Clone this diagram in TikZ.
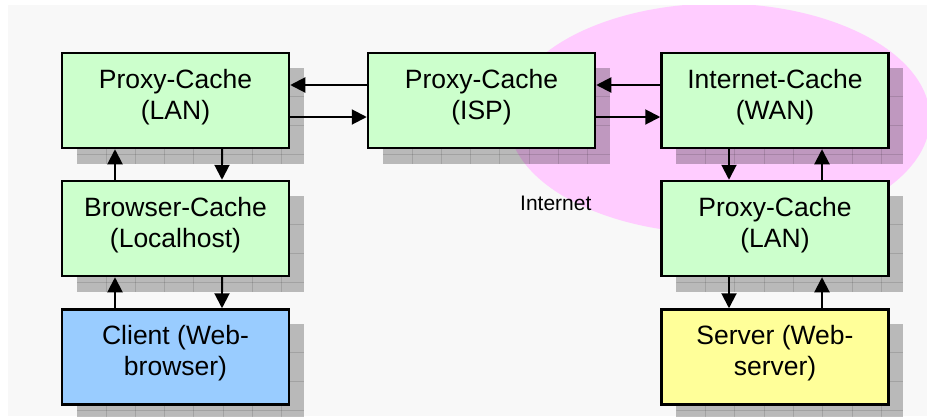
\documentclass[tikz,border=0pt]{standalone}
\usepackage{fontspec}
\setmainfont{Liberation Sans}
\usetikzlibrary{arrows.meta}

\definecolor{boxgreen}{HTML}{CCFFCC}
\definecolor{clientblue}{HTML}{99CCFF}
\definecolor{serveryellow}{HTML}{FFFF99}
\definecolor{netpink}{HTML}{FFCCFF}
\definecolor{panelgray}{HTML}{F8F8F8}

\pgfdeclarelayer{panel}
\pgfdeclarelayer{shadows}
\pgfsetlayers{panel,shadows,main}

\tikzset{
  cachebox/.style={draw=black, line width=2.5pt, fill=boxgreen,
    minimum width=227pt, minimum height=95pt, inner sep=0pt,
    align=center, text depth=12.5pt, font=\fontsize{26.5}{31}\selectfont},
  clientbox/.style={cachebox, fill=clientblue},
  serverbox/.style={cachebox, fill=serveryellow},
  flow/.style={-{Triangle[length=15pt,width=15pt]}, line width=2pt},
  netlabel/.style={font=\fontsize{21}{25}\selectfont, anchor=base west, inner sep=0pt},
}

% grey gridded drop shadow behind a box, offset 16 right and 16 down
\newcommand\gridshadow[1]{%
  \begin{scope}[shift={(#1.north west)}, shift={(16,16)}]
    \fill[black, opacity=0.25] (0,0) rectangle (227,96);
    \begin{scope}
      \clip (0,0) rectangle (227,96);
      \foreach \gx in {29.3,58.6,...,227} {
        \draw[black, opacity=0.12, line width=1pt] (\gx,0) -- (\gx,96);
      }
      \foreach \gy in {28.5,57.5,86.5} {
        \draw[black, opacity=0.12, line width=1pt] (0,\gy) -- (227,\gy);
      }
    \end{scope}
  \end{scope}}

\begin{document}
\begin{tikzpicture}[x=1pt, y=-1pt]
  \useasboundingbox (0,0) rectangle (927,416);

  % cache boxes
  \node[cachebox] (lanA) at (175.5,100.5) {Proxy-Cache\\(LAN)};
  \node[cachebox] (isp) at (481.5,100.5) {Proxy-Cache\\(ISP)};
  \node[cachebox] (wan) at (775,100.5) {Internet-Cache\\(WAN)};
  \node[cachebox] (browser) at (175.5,228.5) {Browser-Cache\\(Localhost)};
  \node[cachebox] (lanB) at (775,228.5) {Proxy-Cache\\(LAN)};
  \node[clientbox] (client) at (175.5,357) {Client (Web-\\browser)};
  \node[serverbox] (server) at (775,357) {Server (Web-\\server)};

  % horizontal request / response flows
  \draw[flow] ([yshift=15.5pt]isp.west) -- ([yshift=15.5pt]lanA.east);
  \draw[flow] ([yshift=-16.5pt]lanA.east) -- ([yshift=-16.5pt]isp.west);
  \draw[flow] ([yshift=15.5pt]wan.west) -- ([yshift=15.5pt]isp.east);
  \draw[flow] ([yshift=-16.5pt]isp.east) -- ([yshift=-16.5pt]wan.west);

  % vertical flows, client side
  \draw[flow] ([xshift=-60.5pt]browser.north) -- ([xshift=-60.5pt]lanA.south);
  \draw[flow] ([xshift=46.5pt]lanA.south) -- ([xshift=46.5pt]browser.north);
  \draw[flow] ([xshift=-60.5pt]client.north) -- ([xshift=-60.5pt]browser.south);
  \draw[flow] ([xshift=46.5pt]browser.south) -- ([xshift=46.5pt]client.north);

  % vertical flows, server side
  \draw[flow] ([xshift=-46pt]wan.south) -- ([xshift=-46pt]lanB.north);
  \draw[flow] ([xshift=47pt]lanB.north) -- ([xshift=47pt]wan.south);
  \draw[flow] ([xshift=-46pt]lanB.south) -- ([xshift=-46pt]server.north);
  \draw[flow] ([xshift=47pt]server.north) -- ([xshift=47pt]lanB.south);

  \node[netlabel] (internet) at (520,210) {Internet};

  \begin{pgfonlayer}{shadows}
    \foreach \b in {lanA,isp,wan,browser,lanB,client,server} {
      \gridshadow{\b}
    }
  \end{pgfonlayer}

  \begin{pgfonlayer}{panel}
    \fill[white] (0,0) rectangle (927,416);
    \fill[panelgray] (8,5) rectangle (927,416);
    \begin{scope}
      \clip (8,5) rectangle (927,416);
      \fill[netpink] (719,118.5) ellipse [x radius=211, y radius=115];
    \end{scope}
  \end{pgfonlayer}
\end{tikzpicture}
\end{document}
